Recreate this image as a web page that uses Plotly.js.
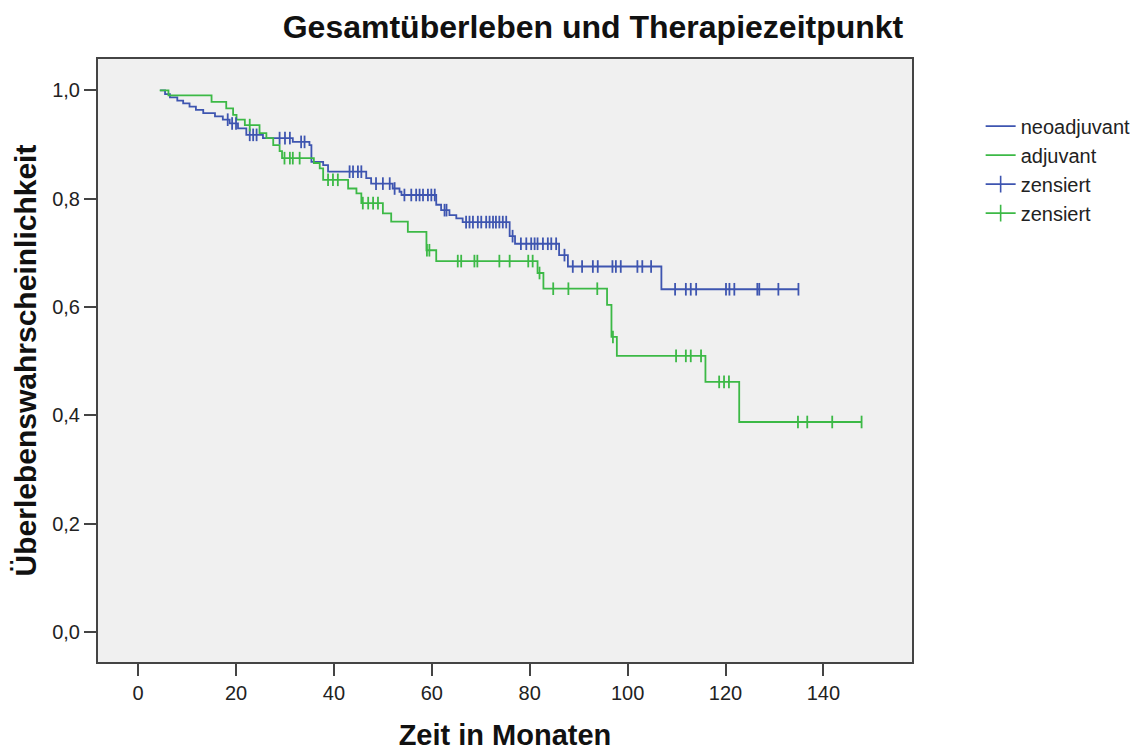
<!DOCTYPE html>
<html>
<head>
<meta charset="utf-8">
<script src="https://cdn.plot.ly/plotly-3.0.1.min.js"></script>
<style>html,body{margin:0;padding:0;background:#fff;}#chart{width:1147px;height:751px;}</style>
</head>
<body>
<div id="chart"></div>
<script>
// Kaplan-Meier step data (time in months, survival probability)
const neoTime = [4.5, 5.5, 6.5, 8.0, 9.2, 10.5, 11.8, 13.3, 15.7, 17.3, 18.7, 20.4, 22.1, 25.5, 31.6, 35.0, 35.4, 37.8, 38.8, 46.6, 47.6, 52.0, 53.4, 53.8, 60.9, 61.9, 63.6, 65.0, 66.3, 75.9, 77.0, 86.0, 87.8, 106.9];
const neoSurv = [1.0, 0.993, 0.987, 0.981, 0.976, 0.970, 0.964, 0.958, 0.952, 0.946, 0.939, 0.930, 0.918, 0.912, 0.905, 0.899, 0.868, 0.862, 0.850, 0.838, 0.828, 0.819, 0.813, 0.807, 0.789, 0.779, 0.770, 0.764, 0.757, 0.731, 0.717, 0.696, 0.675, 0.633];
const neoCensored = [18.3, 19.2, 20.0, 22.8, 23.5, 24.2, 28.9, 30.0, 31.0, 33.3, 34.0, 43.2, 43.9, 44.9, 45.6, 48.6, 50.0, 51.4, 52.4, 54.4, 55.8, 56.8, 57.5, 58.2, 59.2, 59.9, 60.6, 62.6, 63.0, 67.0, 67.7, 68.4, 69.4, 70.1, 71.1, 71.8, 72.5, 73.1, 73.8, 74.5, 75.2, 76.5, 78.2, 79.3, 80.3, 81.0, 81.6, 82.7, 83.7, 84.4, 85.4, 87.1, 88.8, 90.7, 92.9, 93.9, 96.9, 97.6, 98.6, 102.0, 103.0, 104.8, 109.7, 111.9, 112.9, 114.0, 120.1, 120.8, 121.8, 126.5, 126.9, 130.8, 134.9];

const adjTime = [4.4, 6.2, 15.0, 18.0, 19.4, 20.1, 21.8, 24.8, 26.2, 27.6, 28.9, 29.4, 35.9, 37.1, 37.8, 42.9, 44.6, 45.6, 50.0, 51.7, 55.1, 58.9, 60.9, 81.6, 82.8, 95.8, 96.7, 97.8, 115.9, 122.8];
const adjSurv = [1.0, 0.991, 0.979, 0.967, 0.955, 0.946, 0.936, 0.921, 0.912, 0.899, 0.888, 0.875, 0.866, 0.856, 0.835, 0.819, 0.810, 0.792, 0.773, 0.758, 0.739, 0.705, 0.685, 0.663, 0.634, 0.604, 0.545, 0.510, 0.462, 0.388];
const adjCensored = [22.8, 29.9, 31.0, 31.6, 33.0, 38.8, 39.8, 40.8, 45.9, 47.0, 48.0, 49.0, 59.0, 59.5, 65.3, 66.0, 68.7, 69.3, 73.8, 75.9, 79.7, 80.6, 82.0, 84.8, 87.9, 93.8, 97.0, 109.9, 111.9, 112.9, 115.0, 118.7, 119.7, 120.7, 134.8, 136.7, 141.8, 147.8];

const groupNames = ['neoadjuvant', 'adjuvant'];
const censorName = 'zensiert';
const xTicks = [0, 20, 40, 60, 80, 100, 120, 140];
const yTicks = [0, 0.2, 0.4, 0.6, 0.8, 1.0];

const BLUE = '#3e55b0';
const GREEN = '#3cb946';
const FONT = '"Liberation Sans", Arial, sans-serif';

function survAt(times, surv, t) {
  let s = surv[0];
  for (let i = 0; i < times.length; i++) { if (times[i] <= t) s = surv[i]; }
  return s;
}
function stepTrace(times, surv, cens, name, color) {
  const end = Math.max(times[times.length - 1], ...cens);
  return {
    x: times.concat([end]), y: surv.concat([surv[surv.length - 1]]),
    type: 'scatter', mode: 'lines', line: {shape: 'hv', color: color, width: 1.8},
    name: name, hoverinfo: 'x+y'
  };
}
function censTrace(times, surv, cens, color) {
  return {
    x: cens, y: cens.map(t => survAt(times, surv, t)),
    type: 'scatter', mode: 'markers', showlegend: false,
    marker: {symbol: 'line-ns', size: 9, line: {color: color, width: 1.8}},
    hoverinfo: 'x+y'
  };
}
function legendCens(color) {
  return {x: [null], y: [null], type: 'scatter', mode: 'lines+markers', name: censorName,
    line: {color: color, width: 1.8},
    marker: {symbol: 'line-ns', size: 12, line: {color: color, width: 1.6}}};
}

const data = [
  stepTrace(neoTime, neoSurv, neoCensored, groupNames[0], BLUE),
  stepTrace(adjTime, adjSurv, adjCensored, groupNames[1], GREEN),
  legendCens(BLUE),
  legendCens(GREEN),
  censTrace(neoTime, neoSurv, neoCensored, BLUE),
  censTrace(adjTime, adjSurv, adjCensored, GREEN)
];

const axisCommon = {
  showgrid: false, zeroline: false, showline: true, mirror: true,
  linecolor: '#444', linewidth: 2, ticks: 'outside', ticklen: 12, tickwidth: 2, tickcolor: '#444',
  tickfont: {family: FONT, size: 20, color: '#222'}
};

const layout = {
  width: 1147, height: 751,
  margin: {l: 98, r: 234, t: 59, b: 89},
  paper_bgcolor: '#ffffff', plot_bgcolor: '#f0f0f0',
  separators: ',.',
  title: {text: '<b>Gesamtüberleben und Therapiezeitpunkt</b>', font: {family: FONT, size: 32, color: '#111'},
    xref: 'container', yref: 'container', x: 0.517, y: 0.964, xanchor: 'center', yanchor: 'middle'},
  xaxis: Object.assign({}, axisCommon, {
    range: [-8.2, 158.1], tickvals: xTicks, ticktext: xTicks.map(String),
    title: {text: '<b>Zeit in Monaten</b>', font: {family: FONT, size: 29, color: '#111'}, standoff: 24}
  }),
  yaxis: Object.assign({}, axisCommon, {
    range: [-0.055, 1.058], tickvals: yTicks, tickformat: '.1f',
    title: {text: '<b>Überlebenswahrscheinlichkeit</b>', font: {family: FONT, size: 30, color: '#111'}, standoff: 7}
  }),
  legend: {x: 1.083, xanchor: 'left', y: 0.921, yanchor: 'top', bgcolor: 'rgba(0,0,0,0)',
    font: {family: FONT, size: 20, color: '#222'}, tracegroupgap: 0},
  showlegend: true
};

Plotly.newPlot('chart', data, layout, {displayModeBar: false, staticPlot: true});
</script>
</body>
</html>
